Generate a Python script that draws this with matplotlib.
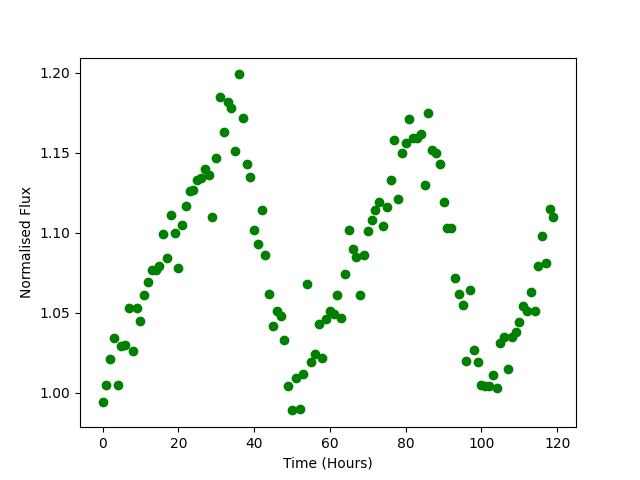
import numpy as np
import matplotlib
matplotlib.use('Agg')
import matplotlib.pyplot as plt

# time in hours, one sample per hour
time_hours = np.arange(120)
flux = [0.994, 1.005, 1.021, 1.034, 1.005, 1.029, 1.030, 1.053, 1.026, 1.053,
        1.045, 1.061, 1.069, 1.077, 1.077, 1.079, 1.099, 1.084, 1.111, 1.100,
        1.078, 1.105, 1.117, 1.126, 1.127, 1.133, 1.134, 1.140, 1.136, 1.110,
        1.147, 1.185, 1.163, 1.182, 1.178, 1.151, 1.199, 1.172, 1.143, 1.135,
        1.102, 1.093, 1.114, 1.086, 1.062, 1.042, 1.051, 1.048, 1.033, 1.004,
        0.989, 1.009, 0.990, 1.012, 1.068, 1.019, 1.024, 1.043, 1.022, 1.046,
        1.051, 1.049, 1.061, 1.047, 1.074, 1.102, 1.090, 1.085, 1.061, 1.086,
        1.101, 1.108, 1.114, 1.119, 1.104, 1.116, 1.133, 1.158, 1.121, 1.150,
        1.156, 1.171, 1.159, 1.159, 1.162, 1.130, 1.175, 1.152, 1.150, 1.143,
        1.119, 1.103, 1.103, 1.072, 1.062, 1.055, 1.020, 1.064, 1.027, 1.019,
        1.005, 1.004, 1.004, 1.011, 1.003, 1.031, 1.035, 1.015, 1.035, 1.038,
        1.044, 1.054, 1.051, 1.063, 1.051, 1.079, 1.098, 1.081, 1.115, 1.110]

fig, ax = plt.subplots(figsize=(6.4, 4.8), dpi=100)
ax.scatter(time_hours, flux, c='green')
ax.set_xlabel('Time (Hours)')
ax.set_ylabel('Normalised Flux')
fig.savefig('out.png')
